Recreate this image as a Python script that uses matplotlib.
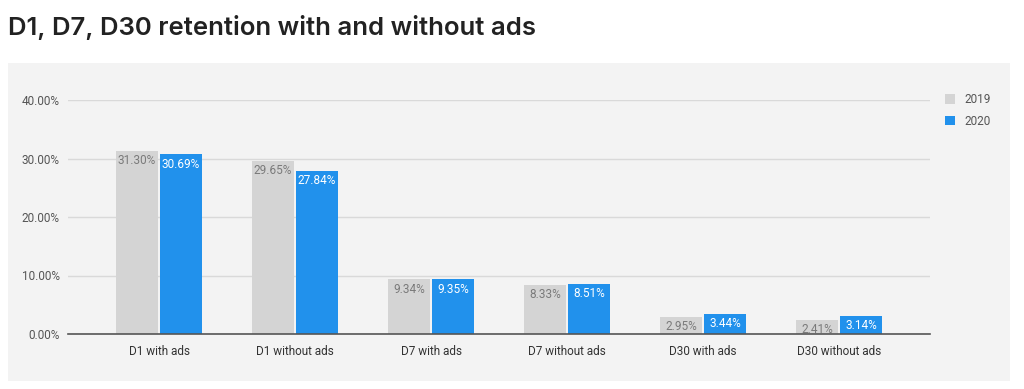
import matplotlib.pyplot as plt
from matplotlib.patches import Rectangle, Patch
import numpy as np

categories = ["D1 with ads", "D1 without ads", "D7 with ads",
              "D7 without ads", "D30 with ads", "D30 without ads"]
vals_2019 = [31.30, 29.65, 9.34, 8.33, 2.95, 2.41]
vals_2020 = [30.69, 27.84, 9.35, 8.51, 3.44, 3.14]
yticks = [0, 10, 20, 30, 40]

grey = "#d4d4d4"
blue = "#2191ec"
panel = "#f3f3f3"

plt.rcParams["font.family"] = ["Roboto", "DejaVu Sans"]

fig = plt.figure(figsize=(10.24, 3.89), dpi=100)
fig.patches.append(Rectangle((8 / 1024, 8 / 389), 1002 / 1024, 318 / 389,
                             transform=fig.transFigure, facecolor=panel,
                             edgecolor="none", zorder=-10))

fig.text(8 / 1024, 1 - 28 / 389, "D1, D7, D30 retention with and without ads",
         fontsize=18.5, fontweight="semibold", family=["Inter", "DejaVu Sans"],
         color="#222222", va="center", ha="left")

ax = fig.add_axes([68 / 1024, 55 / 389, 862 / 1024, 234 / 389])
ax.set_facecolor("none")

x = np.arange(len(categories))
w = 0.31
off = 0.162
b1 = ax.bar(x - off, vals_2019, w, color=grey, zorder=2)
b2 = ax.bar(x + off, vals_2020, w, color=blue, zorder=2)

# value labels sit just inside the top of each bar
for bar, v in zip(b1, vals_2019):
    ax.annotate(f"{v:.2f}%", (bar.get_x() + bar.get_width() / 2, v),
                xytext=(0, -7), textcoords="offset points",
                ha="center", va="center", fontsize=8.5, color="#7a7a7a", zorder=3)
for bar, v in zip(b2, vals_2020):
    ax.annotate(f"{v:.2f}%", (bar.get_x() + bar.get_width() / 2, v),
                xytext=(0, -7), textcoords="offset points",
                ha="center", va="center", fontsize=8.5, color="white", zorder=3)

ax.set_xlim(-0.67, 5.67)
ax.set_ylim(0, 40)
ax.set_yticks(yticks)
ax.set_yticklabels([f"{t:.2f}%" for t in yticks], fontsize=8.5, color="#555555")
ax.set_xticks(x)
ax.set_xticklabels(categories, fontsize=8.5, color="#333333")
ax.tick_params(length=0, pad=8)
ax.tick_params(axis="y", pad=6)
ax.yaxis.grid(True, color="#d9d9d9", linewidth=1, zorder=1)
ax.set_axisbelow(True)
for s in ["top", "right", "left"]:
    ax.spines[s].set_visible(False)
ax.spines["bottom"].set_color("#555555")
ax.spines["bottom"].set_linewidth(1.2)
ax.spines["bottom"].set_zorder(4)

handles = [Patch(facecolor=grey, label="2019"), Patch(facecolor=blue, label="2020")]
fig.legend(handles=handles, loc="upper left", bbox_to_anchor=(940 / 1024, 1 - 88 / 389),
           frameon=False, fontsize=8.5, labelcolor="#555555",
           handlelength=0.9, handleheight=0.9, handletextpad=0.8, labelspacing=0.75,
           borderaxespad=0)

fig.savefig("out.png", dpi=100, facecolor="white")
